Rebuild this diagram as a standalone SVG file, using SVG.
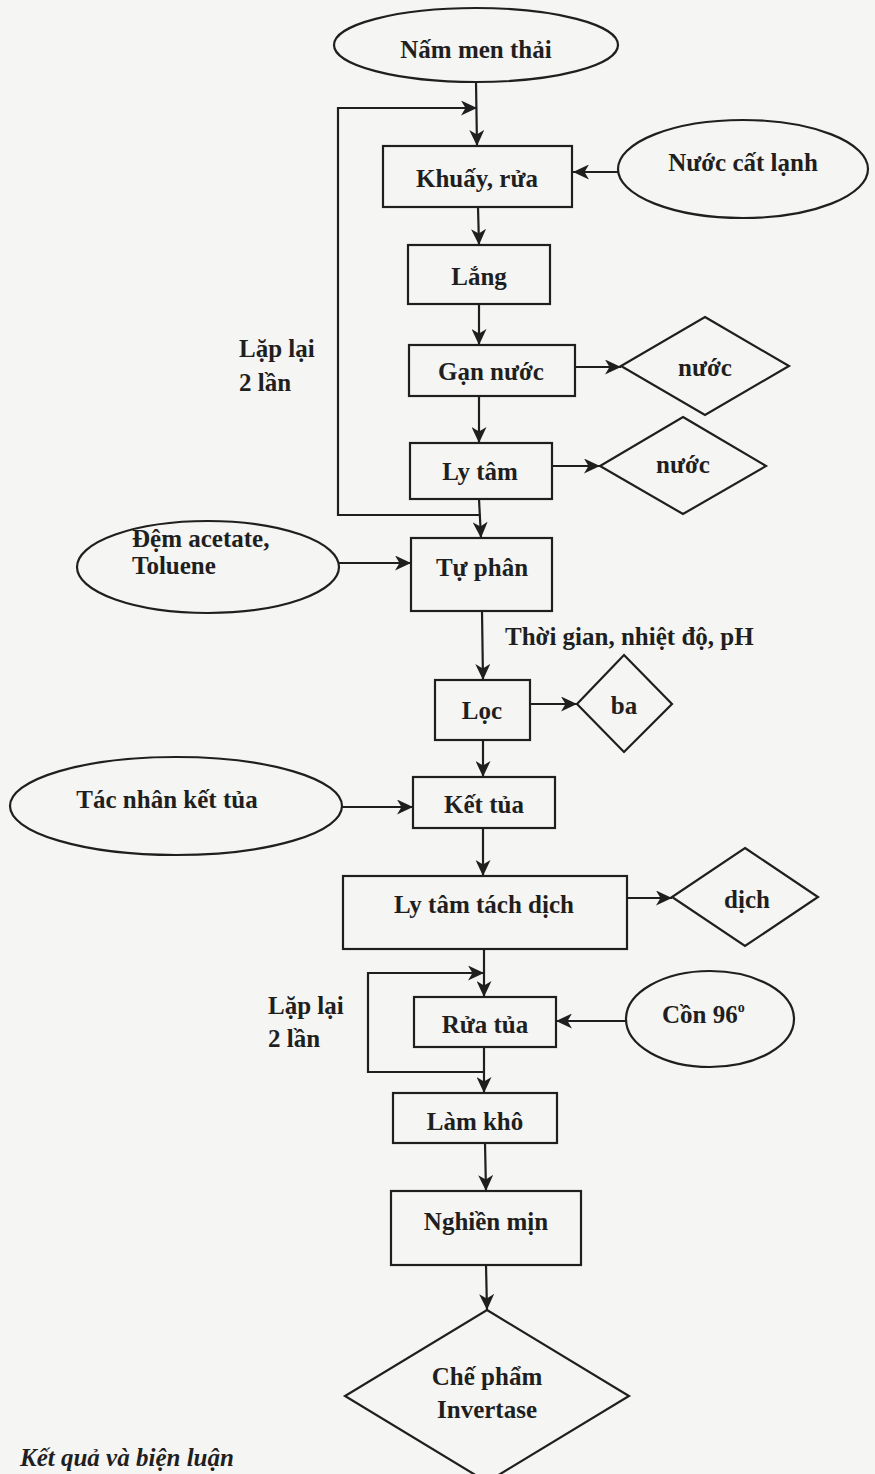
<svg xmlns="http://www.w3.org/2000/svg" width="875" height="1474" viewBox="0 0 875 1474">
<style>
.s{fill:none;stroke:#1f1f1f;stroke-width:2.2}
.n{fill:none;stroke:#1f1f1f;stroke-width:2.2}
.t{font-family:"Liberation Serif","Times New Roman",serif;font-weight:bold;font-size:25px;fill:#1f1f1f}
.c{text-anchor:middle}
.i{font-style:italic}
</style>
<defs>
<marker id="ah" markerUnits="userSpaceOnUse" markerWidth="17" markerHeight="15" refX="16" refY="7.5" orient="auto">
<path d="M0,0 L16,7.5 L0,15 L4.5,7.5 Z" fill="#1f1f1f"/>
</marker>
</defs>
<rect x="0" y="0" width="875" height="1474" fill="#f5f5f3"/>

<g id="connectors">
<line class="s" x1="476" y1="82" x2="477" y2="146" marker-end="url(#ah)"/>
<polyline class="s" points="479,515 338,515 338,108 477,108" marker-end="url(#ah)"/>
<line class="s" x1="618" y1="172" x2="573" y2="172" marker-end="url(#ah)"/>
<line class="s" x1="478" y1="207" x2="479" y2="245" marker-end="url(#ah)"/>
<line class="s" x1="479" y1="304" x2="479" y2="345" marker-end="url(#ah)"/>
<line class="s" x1="575" y1="367" x2="621" y2="367" marker-end="url(#ah)"/>
<line class="s" x1="479" y1="396" x2="479" y2="443" marker-end="url(#ah)"/>
<line class="s" x1="552" y1="466" x2="600" y2="466" marker-end="url(#ah)"/>
<line class="s" x1="479" y1="499" x2="481" y2="538" marker-end="url(#ah)"/>
<line class="s" x1="339" y1="563" x2="411" y2="563" marker-end="url(#ah)"/>
<line class="s" x1="482" y1="611" x2="483" y2="680" marker-end="url(#ah)"/>
<line class="s" x1="530" y1="704" x2="577" y2="704" marker-end="url(#ah)"/>
<line class="s" x1="483" y1="740" x2="483" y2="777" marker-end="url(#ah)"/>
<line class="s" x1="342" y1="807" x2="413" y2="807" marker-end="url(#ah)"/>
<line class="s" x1="483" y1="828" x2="483" y2="876" marker-end="url(#ah)"/>
<line class="s" x1="627" y1="898" x2="672" y2="898" marker-end="url(#ah)"/>
<line class="s" x1="484" y1="949" x2="484" y2="997" marker-end="url(#ah)"/>
<polyline class="s" points="484,1072 368,1072 368,973 484,973" marker-end="url(#ah)"/>
<line class="s" x1="626" y1="1021" x2="556" y2="1021" marker-end="url(#ah)"/>
<line class="s" x1="484" y1="1047" x2="484" y2="1093" marker-end="url(#ah)"/>
<line class="s" x1="485" y1="1143" x2="486" y2="1191" marker-end="url(#ah)"/>
<line class="s" x1="486" y1="1265" x2="487" y2="1310" marker-end="url(#ah)"/>
</g>

<g id="n-nammen"><ellipse class="n" cx="476" cy="45" rx="142" ry="37"/><text class="t c" x="476" y="58">Nấm men thải</text></g>
<g id="n-khuay"><rect class="n" x="383" y="146" width="189" height="61"/><text class="t c" x="477" y="187">Khuấy, rửa</text></g>
<g id="n-nuoccat"><ellipse class="n" cx="743" cy="169" rx="125" ry="49"/><text class="t c" x="743" y="171">Nước cất lạnh</text></g>
<g id="n-lang"><rect class="n" x="408" y="245" width="142" height="59"/><text class="t c" x="479" y="285">Lắng</text></g>
<g id="n-gan"><rect class="n" x="409" y="345" width="166" height="51"/><text class="t c" x="491" y="380">Gạn nước</text></g>
<g id="n-nuoc1"><polygon class="n" points="705,317 789,366 705,415 621,366"/><text class="t c" x="705" y="376">nước</text></g>
<g id="n-lytam"><rect class="n" x="410" y="443" width="142" height="56"/><text class="t c" x="480" y="480">Ly tâm</text></g>
<g id="n-nuoc2"><polygon class="n" points="683,417 766,466 683,514 600,466"/><text class="t c" x="683" y="473">nước</text></g>
<g id="n-dem"><ellipse class="n" cx="208" cy="567" rx="131" ry="46"/><text class="t" x="132" y="547">Đệm acetate,</text><text class="t" x="132" y="574">Toluene</text></g>
<g id="n-tuphan"><rect class="n" x="411" y="538" width="141" height="73"/><text class="t c" x="482" y="576">Tự phân</text></g>
<g id="n-label-tg"><text class="t" x="505" y="645">Thời gian, nhiệt độ, pH</text></g>
<g id="n-loc"><rect class="n" x="435" y="680" width="95" height="60"/><text class="t c" x="482" y="719">Lọc</text></g>
<g id="n-ba"><polygon class="n" points="624,655 672,704 624,752 577,704"/><text class="t c" x="624" y="714">ba</text></g>
<g id="n-tacnhan"><ellipse class="n" cx="176" cy="806" rx="166" ry="49"/><text class="t c" x="167" y="808">Tác nhân kết tủa</text></g>
<g id="n-kettua"><rect class="n" x="413" y="777" width="142" height="51"/><text class="t c" x="484" y="813">Kết tủa</text></g>
<g id="n-lttd"><rect class="n" x="343" y="876" width="284" height="73"/><text class="t c" x="484" y="913">Ly tâm tách dịch</text></g>
<g id="n-dich"><polygon class="n" points="745,848 818,897 745,946 672,897"/><text class="t c" x="747" y="908">dịch</text></g>
<g id="n-lap1"><text class="t" x="239" y="357">Lặp lại</text><text class="t" x="239" y="391">2 lần</text></g>
<g id="n-lap2"><text class="t" x="268" y="1014">Lặp lại</text><text class="t" x="268" y="1047">2 lần</text></g>
<g id="n-ruatua"><rect class="n" x="414" y="997" width="142" height="50"/><text class="t c" x="485" y="1033">Rửa tủa</text></g>
<g id="n-con"><ellipse class="n" cx="710" cy="1019" rx="84" ry="48"/><text class="t" x="662" y="1023">Cồn 96<tspan font-size="14" dy="-11">o</tspan></text></g>
<g id="n-lamkho"><rect class="n" x="393" y="1093" width="164" height="50"/><text class="t c" x="475" y="1130">Làm khô</text></g>
<g id="n-nghien"><rect class="n" x="391" y="1191" width="190" height="74"/><text class="t c" x="486" y="1230">Nghiền mịn</text></g>
<g id="n-chepham"><polygon class="n" points="487,1310 629,1396 487,1482 345,1396"/><text class="t c" x="487" y="1385">Chế phẩm</text><text class="t c" x="487" y="1418">Invertase</text></g>
<g id="n-footer"><text class="t i" x="20" y="1466">Kết quả và biện luận</text></g>
</svg>
